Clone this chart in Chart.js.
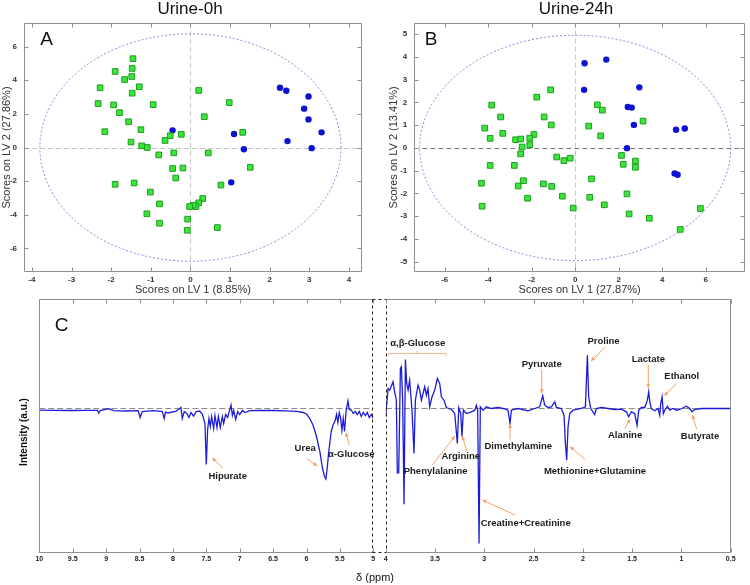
<!DOCTYPE html>
<html lang="en">
<head>
<meta charset="UTF-8">
<title>Urine PLS-DA scores and loadings</title>
<script src="https://cdn.jsdelivr.net/npm/chart.js"></script>
<style>
  body { margin: 0; background: #fff; }
  #wrap { position: relative; width: 750px; height: 585px; overflow: hidden; }
  canvas { position: absolute; }
</style>
</head>
<body>
<div id="wrap">
  <canvas id="scoresA" width="375" height="300" style="left:0;top:0"></canvas>
  <canvas id="scoresB" width="375" height="300" style="left:375px;top:0"></canvas>
  <canvas id="specHigh" width="750" height="300" style="left:0;top:285px"></canvas>
  <canvas id="specLow" width="750" height="300" style="left:0;top:285px"></canvas>
</div>
<script>
// ---- panel A (Urine-0h) scores: [LV1, LV2]
const greenA = [[-1.45,5.28],[-1.47,4.70],[-1.90,4.52],[-1.48,4.22],[-1.66,4.04],[-2.28,3.55],[-1.29,3.61],
  [-1.47,3.23],[-2.33,2.61],[-1.94,2.53],[-0.94,2.55],[-1.79,2.07],[-1.56,1.53],[-2.16,0.94],[-1.25,1.06],
  [-1.50,0.32],[-1.23,0.10],[-1.09,0.00],[-0.80,-0.44],[-0.51,0.70],[-0.64,0.42],[-0.23,0.78],[-0.42,-0.32],
  [-0.45,-1.25],[-0.19,-1.22],[-0.37,-1.81],[-1.90,-2.19],[-1.42,-2.11],[-1.01,-2.65],[-0.78,-3.35],
  [-1.10,-3.94],[-0.78,-4.50],[0.21,3.39],[0.35,1.83],[0.45,-0.32],[0.98,2.67],[1.32,0.90],[1.51,-1.18],
  [0.77,-2.23],[0.31,-3.03],[0.21,-3.29],[0.14,-3.51],[0.07,-3.43],[-0.02,-3.51],[-0.07,-4.26],[-0.08,-4.92],[0.68,-4.76]];
const blueA = [[2.26,3.55],[2.42,3.37],[2.98,3.03],[2.87,2.31],[2.98,1.67],[3.31,0.90],[2.45,0.38],
  [3.06,-0.04],[1.10,0.80],[1.35,-0.10],[-0.45,1.02],[1.03,-2.07]];
const ticksAx = [-4,-3,-2,-1,0,1,2,3,4];
const ticksAy = [-6,-4,-2,0,2,4,6];

// ---- panel B (Urine-24h) scores
const greenB = [[-1.13,2.55],[-1.77,2.23],[-3.84,1.88],[-3.43,1.36],[-1.43,1.36],[-1.10,1.01],[-4.16,0.87],
  [-3.33,0.64],[-3.91,0.42],[-2.74,0.36],[-2.51,0.39],[-1.90,0.59],[-2.09,0.43],[-2.09,0.14],[-2.44,0.04],
  [-2.51,-0.26],[-3.91,-0.77],[-2.80,-0.77],[-0.85,-0.40],[-0.52,-0.56],[-0.23,-0.45],[-4.31,-1.55],
  [-2.62,-1.67],[-2.38,-1.44],[-1.46,-1.58],[-1.08,-1.69],[-2.19,-2.21],[-4.28,-2.56],[-0.59,-2.12],
  [-0.09,-2.64],[1.02,1.89],[1.25,1.66],[0.62,0.96],[1.17,0.53],[3.12,1.18],[2.13,-0.33],[2.21,-0.72],
  [2.77,-0.58],[2.77,-0.85],[0.75,-1.36],[0.67,-2.17],[1.34,-2.50],[2.38,-2.02],[2.48,-2.90],[3.41,-3.09],
  [5.76,-2.66],[4.83,-3.58]];
const blueB = [[0.43,3.72],[1.43,3.88],[0.41,2.55],[2.95,2.66],[2.42,1.80],[2.60,1.77],[2.70,1.01],
  [2.38,-0.01],[4.64,0.80],[5.04,0.85],[4.57,-1.12],[4.71,-1.18]];
const ticksBx = [-6,-4,-2,0,2,4,6];
const ticksBy = [-5,-4,-3,-2,-1,0,1,2,3,4,5];

// ---- panel C loadings spectrum, 10 -> 5 ppm
const specHighPpm = [10.00,9.80,9.50,9.30,9.13,9.11,9.09,8.96,8.93,8.88,8.70,8.52,8.49,8.46,8.30,8.16,8.13,8.11,8.08,
  7.96,7.88,7.86,7.83,7.79,7.76,7.73,7.69,7.65,7.60,7.56,7.52,7.50,7.48,7.46,7.44,7.42,7.39,7.37,7.34,7.32,7.29,
  7.26,7.24,7.21,7.18,7.13,7.11,7.09,7.06,7.03,7.00,6.96,6.92,6.85,6.70,6.50,6.30,6.15,6.05,6.00,5.95,5.90,5.85,
  5.80,5.76,5.73,5.71,5.69,5.67,5.65,5.63,5.60,5.57,5.55,5.53,5.51,5.49,5.47,5.45,5.43,5.41,5.38,5.36,5.33,5.30,
  5.27,5.24,5.21,5.18,5.15,5.12,5.09,5.06,5.03,5.00];
const specHighInt = [-0.17,-0.18,-0.20,-0.18,-0.18,-0.45,-0.20,-0.02,-0.12,-0.22,-0.25,-0.22,-0.90,-0.30,-0.22,-0.28,
  -1.00,-0.35,-0.45,-0.30,0.10,-1.00,-0.30,-0.50,-0.90,-0.40,-0.75,-0.30,-0.25,-0.55,-1.50,-5.60,-2.10,-1.00,-1.80,
  -0.80,-2.00,-0.70,-1.90,-0.80,-1.90,-0.80,-1.50,-0.60,-0.90,0.35,-0.70,-0.20,-1.10,-0.30,-0.60,-0.20,-0.40,-0.22,
  -0.20,-0.20,-0.23,-0.28,-0.40,-0.55,-1.00,-1.70,-2.80,-4.30,-6.00,-6.80,-7.05,-6.00,-4.50,-3.40,-2.30,-1.60,
  -1.20,-0.60,-1.40,-0.40,-0.90,-2.20,-1.00,-2.30,-0.40,0.75,-0.10,-0.15,-0.50,-0.30,-0.60,-0.30,-0.80,-0.40,-0.70,
  -0.40,-0.90,-0.60,-1.00];
// ---- panel C loadings spectrum, 4 -> 0.5 ppm
const specLowPpm = [4.000,3.976,3.959,3.926,3.909,3.892,3.882,3.868,3.851,3.841,3.828,3.814,3.800,3.787,3.773,3.757,
  3.733,3.713,3.699,3.672,3.655,3.638,3.604,3.587,3.571,3.554,3.530,3.503,3.476,3.452,3.435,3.408,3.385,3.334,
  3.300,3.273,3.259,3.239,3.226,3.212,3.182,3.131,3.097,3.080,3.067,3.053,3.040,3.013,2.979,2.928,2.860,2.810,
  2.759,2.739,2.725,2.657,2.556,2.488,2.438,2.407,2.387,2.353,2.319,2.285,2.269,2.218,2.191,2.177,2.164,2.150,
  2.133,2.099,2.049,1.998,1.974,1.954,1.941,1.920,1.880,1.863,1.812,1.744,1.677,1.609,1.558,1.535,1.508,1.474,
  1.450,1.433,1.406,1.372,1.345,1.332,1.318,1.305,1.271,1.237,1.220,1.210,1.196,1.183,1.169,1.142,1.119,1.085,
  1.051,1.017,0.950,0.916,0.892,0.865,0.797,0.500];
const specLowInt = [-0.83,2.00,1.83,2.67,1.67,0.83,-6.43,-6.43,4.00,4.17,0.83,-9.57,4.90,2.50,1.83,2.83,-0.17,-4.50,
  0.83,2.33,1.83,0.83,2.17,1.33,2.00,0.17,1.17,1.83,3.00,2.50,1.17,0.83,0.10,-0.10,-0.50,-3.50,0.07,-0.50,-2.83,
  -0.17,-0.50,-0.33,-0.17,0.33,-0.17,-13.50,0.17,-0.17,0.17,0.00,0.10,0.00,-0.17,-1.50,-0.17,0.00,-0.23,0.00,0.17,
  1.27,0.33,0.10,0.17,0.67,0.10,0.00,-0.67,-3.50,-5.17,-1.83,-0.50,-0.17,-0.07,0.07,0.17,5.33,1.17,0.00,-0.60,0.00,
  0.10,0.00,-0.10,-0.07,-0.33,-0.83,-0.33,-0.50,-1.67,-0.17,0.10,0.10,0.83,1.67,0.50,0.00,-0.23,0.00,-0.67,0.50,
  1.17,-0.50,-0.17,0.23,-0.17,0.00,-0.17,-0.10,0.23,0.00,-0.33,-0.10,0.00,0.00];
const ticksHigh = [10,9.5,9,8.5,8,7.5,7,6.5,6,5.5,5];
const ticksLow = [4,3.5,3,2.5,2,1.5,1,0.5];

// peak labels: text, label pos (ppm, int), arrow tail and head (ppm, int)
const notesHigh = [
  { text: 'Hipurate', at: [7.18, -6.82], tail: [7.25, -5.95], head: [7.41, -4.95] },
  { text: 'Urea', at: [6.02, -4.02], tail: [6.00, -4.98], head: [5.84, -5.75] },
  { text: '\u03b1-Glucose', at: [5.33, -4.55], tail: [5.36, -3.65], head: [5.41, -2.42] }
];
const notesLow = [
  { text: '\u03b1,\u03b2-Glucose', at: [3.675, 6.52], bracket: [3.974, 3.388, 5.52] },
  { text: 'Phenylalanine', at: [3.493, -6.32], tail: [3.527, -5.65], head: [3.297, -2.75] },
  { text: 'Arginine', at: [3.239, -4.75], tail: [3.178, -4.22], head: [3.223, -2.75] },
  { text: 'Creatine+Creatinine', at: [2.58, -11.48], tail: [2.688, -10.65], head: [3.02, -9.15] },
  { text: 'Dimethylamine', at: [2.655, -3.82], tail: [2.739, -3.08], head: [2.739, -1.55] },
  { text: 'Pyruvate', at: [2.417, 4.45], tail: [2.417, 3.9], head: [2.417, 1.52] },
  { text: 'Methionine+Glutamine', at: [1.877, -6.25], tail: [1.978, -5.08], head: [2.13, -3.82] },
  { text: 'Proline', at: [1.79, 6.75], tail: [1.775, 6.12], head: [1.917, 4.75] },
  { text: 'Alanine', at: [1.572, -2.72], tail: [1.572, -2.02], head: [1.522, -1.05] },
  { text: 'Lactate', at: [1.336, 4.95], tail: [1.336, 4.35], head: [1.336, 2.02] },
  { text: 'Ethanol', at: [0.997, 3.18], tail: [1.048, 2.52], head: [1.174, 1.28] },
  { text: 'Butyrate', at: [0.811, -2.82], tail: [0.845, -2.08], head: [0.889, -0.65] }
];

const FONT = '"Liberation Sans", Arial, sans-serif';
Chart.defaults.font.family = FONT;
const GRAY = '#8f8f8f';

function framePlugin(cfg) {
  return {
    id: 'frame',
    afterDraw(chart) {
      const { ctx, chartArea: a, scales } = chart;
      const L = Math.round(a.left) + 0.5, R = Math.round(a.right) - 0.5;
      const T = Math.round(a.top) + 0.5, B = Math.round(a.bottom) - 0.5;
      ctx.save();
      ctx.lineWidth = 1;
      const seg = (x1, y1, x2, y2, style) => {
        ctx.beginPath();
        ctx.strokeStyle = style === 'dash' ? '#222' : GRAY;
        ctx.setLineDash(style === 'dash' ? [3, 3] : []);
        ctx.moveTo(x1, y1); ctx.lineTo(x2, y2); ctx.stroke();
      };
      seg(L, T, R, T, 'solid'); seg(L, B, R, B, 'solid');
      seg(L, T, L, B, cfg.left || 'solid'); seg(R, T, R, B, cfg.right || 'solid');
      if (cfg.bridgeTo) {
        const xr = Math.round(cfg.bridgeTo().chartArea.right) - 0.5;
        seg(xr, T, L, T, 'dash'); seg(xr, B, L, B, 'dash');
      }
      ctx.setLineDash([]);
      ctx.strokeStyle = GRAY;
      const k = 4;
      ctx.beginPath();
      scales.x.ticks.forEach(t => {
        const p = Math.round(scales.x.getPixelForValue(t.value)) + 0.5;
        ctx.moveTo(p, T); ctx.lineTo(p, T + k);
        ctx.moveTo(p, B); ctx.lineTo(p, B - k);
      });
      if (cfg.yTicks) {
        scales.y.ticks.forEach(t => {
          const p = Math.round(scales.y.getPixelForValue(t.value)) + 0.5;
          ctx.moveTo(L, p); ctx.lineTo(L + k, p);
          ctx.moveTo(R, p); ctx.lineTo(R - k, p);
        });
      }
      ctx.stroke();
      ctx.restore();
    }
  };
}

function guidePlugin(ell, hColor, vColor) {
  return {
    id: 'guides',
    beforeDatasetsDraw(chart) {
      const { ctx, chartArea: a, scales: { x, y } } = chart;
      const x0 = Math.round(x.getPixelForValue(0)) + 0.5, y0 = Math.round(y.getPixelForValue(0)) + 0.5;
      ctx.save();
      ctx.lineWidth = 1;
      ctx.setLineDash([5, 3]);
      ctx.strokeStyle = hColor;
      ctx.beginPath(); ctx.moveTo(a.left, y0); ctx.lineTo(a.right, y0); ctx.stroke();
      ctx.strokeStyle = vColor;
      ctx.beginPath(); ctx.moveTo(x0, a.top); ctx.lineTo(x0, a.bottom); ctx.stroke();
      ctx.setLineDash([2, 2]);
      ctx.strokeStyle = '#8585dc';
      ctx.beginPath();
      ctx.ellipse(x.getPixelForValue(0), y.getPixelForValue(0),
        x.getPixelForValue(ell[0]) - x.getPixelForValue(0),
        y.getPixelForValue(0) - y.getPixelForValue(ell[1]), 0, 0, Math.PI * 2);
      ctx.stroke();
      ctx.restore();
    }
  };
}

function textPlugin(items) {
  return {
    id: 'panelText',
    afterDraw(chart) {
      const { ctx } = chart;
      ctx.save();
      ctx.fillStyle = '#111';
      ctx.textBaseline = 'middle';
      items.forEach(it => {
        ctx.font = it.font;
        ctx.textAlign = it.align || 'center';
        if (it.rot) {
          ctx.save(); ctx.translate(it.x, it.y); ctx.rotate(it.rot);
          ctx.fillText(it.text, 0, 0); ctx.restore();
        } else {
          ctx.fillText(it.text, it.x, it.y);
        }
      });
      ctx.restore();
    }
  };
}

function scoresChart(id, o) {
  const tickFont = { family: FONT, size: 8, weight: 'bold' };
  const titleFont = { family: FONT, size: 11 };
  return new Chart(document.getElementById(id), {
    type: 'scatter',
    data: {
      datasets: [
        { data: o.green.map(p => ({ x: p[0], y: p[1] })), pointStyle: 'rect', pointRadius: 4,
          backgroundColor: '#3ce43c', borderColor: '#1e9e1e', borderWidth: 1 },
        { data: o.blue.map(p => ({ x: p[0], y: p[1] })), pointStyle: 'circle', pointRadius: 3.2,
          backgroundColor: '#0c12d4', borderColor: '#0c12d4', borderWidth: 0 }
      ]
    },
    options: {
      responsive: false, animation: false, clip: false,
      layout: { padding: o.pad },
      plugins: { legend: { display: false }, tooltip: { enabled: false } },
      scales: {
        x: {
          type: 'linear', min: o.xr[0], max: o.xr[1],
          grid: { display: false, drawTicks: false, tickLength: 0 }, border: { display: false },
          afterBuildTicks: s => { s.ticks = o.xt.map(v => ({ value: v })); },
          afterFit: s => { s.height = 28; },
          ticks: { font: tickFont, color: '#333', padding: 3, maxRotation: 0, autoSkip: false, callback: v => String(v) },
          title: { display: true, text: o.xTitle, font: titleFont, color: '#333', padding: { top: 0, bottom: 3.5 } }
        },
        y: {
          type: 'linear', min: o.yr[0], max: o.yr[1],
          grid: { display: false, drawTicks: false, tickLength: 0 }, border: { display: false },
          afterBuildTicks: s => { s.ticks = o.yt.map(v => ({ value: v })); },
          afterFit: s => { s.width = o.yw; },
          ticks: { font: tickFont, color: '#333', padding: 7, autoSkip: false, callback: v => String(v) },
          title: { display: true, text: o.yTitle, font: titleFont, color: '#333', padding: { top: o.ytPad, bottom: 0 } }
        }
      }
    },
    plugins: [guidePlugin(o.ell, o.hColor, o.vColor), framePlugin({ yTicks: true }), textPlugin(o.texts)]
  });
}

scoresChart('scoresA', {
  green: greenA, blue: blueA, xr: [-4.2, 4.33], yr: [-7.4, 7.4], xt: ticksAx, yt: ticksAy,
  pad: { left: 0, top: 23, right: 13, bottom: 0 }, yw: 24, ytPad: 0,
  xTitle: 'Scores on LV 1 (8.85%)', yTitle: 'Scores on LV 2 (27.86%)',
  ell: [3.8, 6.76], hColor: '#c4c4c4', vColor: '#c4c4c4',
  texts: [
    { text: 'Urine-0h', x: 190, y: 9, font: '17px ' + FONT },
    { text: 'A', x: 46.5, y: 40, font: '19px ' + FONT }
  ]
});

scoresChart('scoresB', {
  green: greenB, blue: blueB, xr: [-7.4, 7.81], yr: [-5.45, 5.5], xt: ticksBx, yt: ticksBy,
  pad: { left: 0, top: 22.7, right: 2.7, bottom: 0 }, yw: 39.3, ytPad: 12.5,
  xTitle: 'Scores on LV 1 (27.87%)', yTitle: 'Scores on LV 2 (13.41%)',
  ell: [7.15, 4.95], hColor: '#7c7c7c', vColor: '#c4c4c4',
  texts: [
    { text: 'Urine-24h', x: 201, y: 9, font: '17px ' + FONT },
    { text: 'B', x: 56, y: 40, font: '19px ' + FONT }
  ]
});

function notePlugin(notes) {
  return {
    id: 'peakNotes',
    afterDatasetsDraw(chart) {
      const { ctx, scales: { x, y } } = chart;
      const px = p => [x.getPixelForValue(p[0]), y.getPixelForValue(p[1])];
      ctx.save();
      notes.forEach(n => {
        ctx.strokeStyle = '#f0a36c'; ctx.fillStyle = '#f0a36c'; ctx.lineWidth = 1;
        if (n.tail) {
          const [x1, y1] = px(n.tail), [x2, y2] = px(n.head);
          const ang = Math.atan2(y2 - y1, x2 - x1);
          ctx.beginPath(); ctx.moveTo(x1, y1); ctx.lineTo(x2, y2); ctx.stroke();
          ctx.beginPath();
          ctx.moveTo(x2, y2);
          ctx.lineTo(x2 - 4 * Math.cos(ang) + 2 * Math.sin(ang), y2 - 4 * Math.sin(ang) - 2 * Math.cos(ang));
          ctx.lineTo(x2 - 4 * Math.cos(ang) - 2 * Math.sin(ang), y2 - 4 * Math.sin(ang) + 2 * Math.cos(ang));
          ctx.closePath(); ctx.fill();
        }
        if (n.bracket) {
          const xa = x.getPixelForValue(n.bracket[0]), xb = x.getPixelForValue(n.bracket[1]);
          const yb = Math.round(y.getPixelForValue(n.bracket[2])) + 0.5, xm = (xa + xb) / 2;
          ctx.strokeStyle = '#f3b98f';
          ctx.beginPath();
          ctx.moveTo(xa, yb + 2.5); ctx.lineTo(xa, yb); ctx.lineTo(xb, yb); ctx.lineTo(xb, yb + 2.5);
          ctx.moveTo(xm, yb); ctx.lineTo(xm, yb - 2.5);
          ctx.stroke();
        }
        ctx.fillStyle = '#1b1b1b';
        ctx.font = 'bold 9.5px ' + FONT;
        ctx.textAlign = 'center'; ctx.textBaseline = 'middle';
        const [lx, ly] = px(n.at);
        ctx.fillText(n.text, lx, ly);
      });
      ctx.restore();
    }
  };
}

function baselinePlugin() {
  return {
    id: 'baseline',
    beforeDatasetsDraw(chart) {
      const { ctx, chartArea: a, scales: { y } } = chart;
      const y0 = Math.round(y.getPixelForValue(0)) + 0.5;
      ctx.save();
      ctx.strokeStyle = '#8c8c8c'; ctx.lineWidth = 1; ctx.setLineDash([6, 3]);
      ctx.beginPath(); ctx.moveTo(a.left, y0); ctx.lineTo(a.right, y0); ctx.stroke();
      ctx.restore();
    }
  };
}

function spectrumChart(id, o) {
  return new Chart(document.getElementById(id), {
    type: 'line',
    data: {
      datasets: [{
        data: o.ppm.map((p, i) => ({ x: p, y: o.val[i] })),
        borderColor: '#1c1cd8', borderWidth: 1.3, pointRadius: 0, tension: 0, fill: false
      }]
    },
    options: {
      responsive: false, animation: false,
      layout: { padding: o.pad },
      plugins: { legend: { display: false }, tooltip: { enabled: false } },
      scales: {
        x: {
          type: 'linear', min: o.xr[0], max: o.xr[1], reverse: true,
          grid: { display: false, drawTicks: false, tickLength: 0 }, border: { display: false },
          afterBuildTicks: s => { s.ticks = o.ticks.map(v => ({ value: v })); },
          afterFit: s => { s.height = 32.3; },
          ticks: { font: { family: FONT, size: 7, weight: 'bold' }, color: '#222', padding: 2,
                   maxRotation: 0, autoSkip: false, callback: v => String(v) }
        },
        y: { display: false, min: -14.42, max: 10.92 }
      }
    },
    plugins: [baselinePlugin(), framePlugin(o.frame), notePlugin(o.notes), textPlugin(o.texts)]
  });
}

const highChart = spectrumChart('specHigh', {
  ppm: specHighPpm, val: specHighInt, xr: [5, 10], ticks: ticksHigh, notes: notesHigh,
  pad: { left: 39.3, top: 14.3, right: 376.7, bottom: 0 },
  frame: { right: 'dash' },
  texts: [
    { text: 'C', x: 61.5, y: 41, font: '19px ' + FONT },
    { text: 'Intensity (a.u.)', x: 24, y: 147, rot: -Math.PI / 2, font: 'bold 10px ' + FONT },
    { text: '\u03b4 (ppm)', x: 375, y: 293, font: '11px ' + FONT }
  ]
});

spectrumChart('specLow', {
  ppm: specLowPpm, val: specLowInt, xr: [0.5, 4], ticks: ticksLow, notes: notesLow,
  pad: { left: 385.7, top: 14.3, right: 19.3, bottom: 0 },
  frame: { left: 'dash', bridgeTo: () => highChart },
  texts: []
});
</script>
</body>
</html>
